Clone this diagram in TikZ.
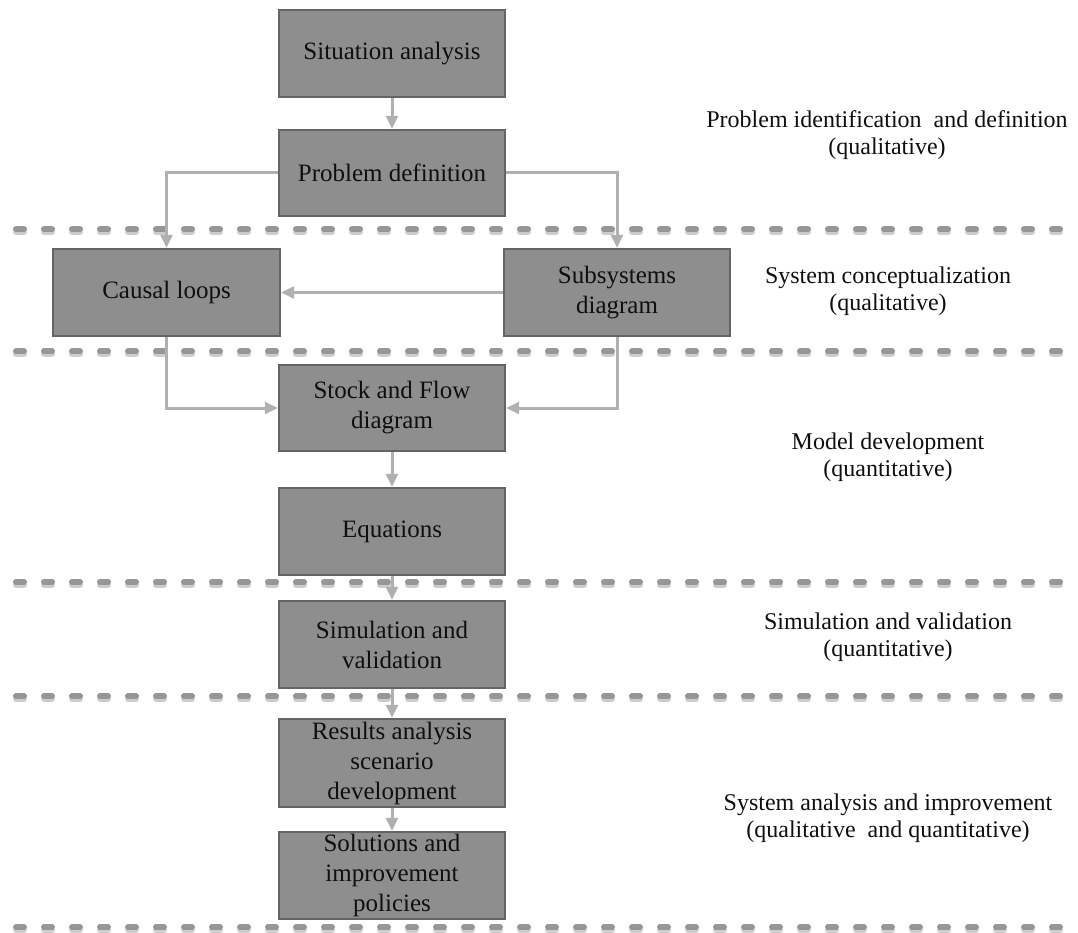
\documentclass[tikz,border=0pt]{standalone}
\usepackage{fontspec}
\setmainfont{Liberation Serif}
\usetikzlibrary{arrows.meta}
\definecolor{boxfill}{RGB}{142,142,142}
\definecolor{boxdraw}{RGB}{100,100,100}
\definecolor{arrowcol}{RGB}{176,176,176}
\definecolor{dashcol}{RGB}{150,150,150}
\definecolor{dashshadow}{RGB}{205,205,205}
\definecolor{txtcol}{RGB}{15,15,15}
\tikzset{
  stepbox/.style={draw=boxdraw, line width=2.4pt, fill=boxfill, minimum width=226pt, minimum height=87pt,
    inner sep=0pt, align=center, text=txtcol, font=\fontsize{25}{30}\selectfont},
  flow/.style={draw=arrowcol, line width=3pt, -{Triangle[width=12pt,length=13pt]}},
  sepline/.style={draw=dashcol, line width=6pt, line cap=round, dash pattern=on 8pt off 20pt},
  sepshadow/.style={draw=dashshadow, line width=6pt, line cap=round, dash pattern=on 8pt off 20pt},
  phase/.style={align=center, text=txtcol, font=\fontsize{24}{27.5}\selectfont}
}
\begin{document}
\begin{tikzpicture}[x=1pt,y=-1pt]
\useasboundingbox (0,0) rectangle (1078,933);
% separators
\foreach \yy/\nm in {229/a,351/b,582/c,696/d,927/e}{
  \coordinate (s\nm l) at (16,\yy);
  \coordinate (s\nm r) at (1066,\yy);
  \coordinate (s\nm ls) at (16,\yy+3);
  \coordinate (s\nm rs) at (1066,\yy+3);
  \draw[sepshadow] (s\nm ls) -- (s\nm rs);
  \draw[sepline] (s\nm l) -- (s\nm r);
}
% boxes
\node[stepbox] (sit) at (392,53.5) {Situation analysis};
\node[stepbox, minimum height=86pt] (prob) at (392,173) {Problem definition};
\node[stepbox, minimum width=227pt] (causal) at (166.5,292.5) {Causal loops};
\node[stepbox] (sub) at (617,292.5) {Subsystems\\diagram};
\node[stepbox, minimum height=86pt] (stock) at (392,408) {Stock and Flow\\diagram};
\node[stepbox] (eq) at (392,531.5) {Equations};
\node[stepbox] (sim) at (392,644.5) {Simulation and\\validation};
\node[stepbox, minimum height=88pt] (res) at (392,763) {Results analysis\\scenario\\development};
\node[stepbox] (sol) at (392,875.5) {Solutions and\\improvement\\policies};
% connectors
\draw[flow] (sit) -- (prob);
\draw[flow] (prob.west) -| (causal.north);
\draw[flow] (prob.east) -| (sub.north);
\draw[flow] (sub.west) -- (causal.east);
\draw[flow] (causal.south) |- (stock.west);
\draw[flow] (sub.south) |- (stock.east);
\draw[flow] (stock) -- (eq);
\draw[flow] (eq) -- (sim);
\draw[flow] (sim) -- (res);
\draw[flow] (res) -- (sol);
% phase labels
\node[phase] (p1) at (887,135) {Problem identification\ \ and definition\\(qualitative)};
\node[phase] (p2) at (888,291) {System conceptualization\\(qualitative)};
\node[phase] (p3) at (888,457) {Model development\\(quantitative)};
\node[phase] (p4) at (888,637) {Simulation and validation\\(quantitative)};
\node[phase] (p5) at (888,818) {System analysis and improvement\\(qualitative\ \ and quantitative)};
\end{tikzpicture}
\end{document}
